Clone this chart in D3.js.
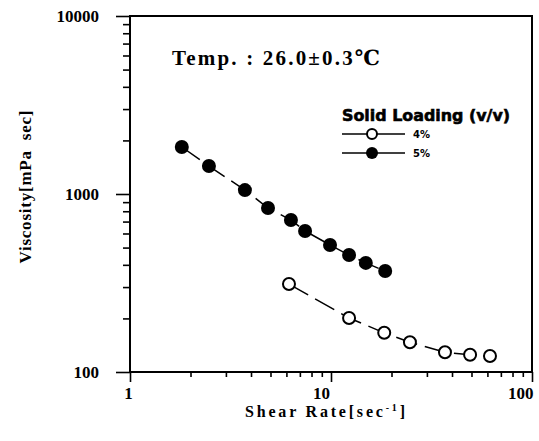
<!DOCTYPE html>
<html>
<head>
<meta charset="utf-8">
<script src="https://cdn.jsdelivr.net/npm/d3@7"></script>
<style>
  body { margin: 0; background: #fff; }
  svg text { fill: #000; }
</style>
</head>
<body>
<svg id="chart" width="539" height="441"></svg>
<script>
// Shear rate [1/s] and viscosity [mPa sec]
const rate5 = [1.81, 2.47, 3.73, 4.86, 6.32, 7.43, 9.89, 12.3, 14.9, 18.6];
const visc5 = [1837, 1436, 1052, 834, 714, 620, 517, 454, 410, 369];
const rate4 = [6.18, 12.3, 18.4, 24.7, 36.9, 49.2, 61.8];
const visc4 = [312, 201, 166, 147, 129, 125, 123];

const xTickValues = [1, 10, 100];
const yTickValues = [100, 1000, 10000];
const seriesLabels = ["4%", "5%"];

const svg = d3.select("#chart");
const plot = { left: 130, right: 532, top: 16, bottom: 372 };

const x = d3.scaleLog().domain([1, 100]).range([plot.left, plot.right]);
const y = d3.scaleLog().domain([100, 10000]).range([plot.bottom, plot.top]);

// minor ticks 2..9 in every decade
const minor = (lo, hi) => {
  const out = [];
  for (let d = lo; d < hi; d *= 10) for (let k = 2; k <= 9; k++) out.push(d * k);
  return out;
};

const serif = "'Liberation Serif', 'DejaVu Serif', serif";

// x axis
const gx = svg.append("g").attr("transform", `translate(0,${plot.bottom})`);
gx.call(d3.axisBottom(x).tickValues(minor(1, 100)).tickSize(5).tickFormat(""));
gx.append("g").call(d3.axisBottom(x).tickValues(xTickValues).tickSize(10).tickFormat(d3.format("d")));
gx.selectAll("path").remove();
gx.selectAll("line").attr("stroke", "#000").attr("stroke-width", 1.6);
gx.selectAll("text")
  .attr("y", 15)
  .attr("dy", "0.71em")
  .style("font-family", serif)
  .style("font-weight", "bold")
  .style("font-size", "17px")
  .attr("text-anchor", d => d === 100 ? "end" : "middle")
  .attr("x", d => d === 100 ? 1 : (d === 1 ? -2 : -10));

// y axis
const gy = svg.append("g").attr("transform", `translate(${plot.left},0)`);
gy.call(d3.axisLeft(y).tickValues(minor(100, 10000)).tickSize(7).tickFormat(""));
gy.append("g").call(d3.axisLeft(y).tickValues(yTickValues).tickSize(14).tickFormat(d3.format("d")));
gy.selectAll("path").remove();
gy.selectAll("line").attr("stroke", "#000").attr("stroke-width", 1.6);
gy.selectAll("text")
  .attr("x", -31)
  .style("font-family", serif)
  .style("font-weight", "bold")
  .style("font-size", "17px");

// frame
svg.append("rect")
  .attr("x", plot.left).attr("y", plot.top)
  .attr("width", plot.right - plot.left).attr("height", plot.bottom - plot.top)
  .attr("fill", "none").attr("stroke", "#000").attr("stroke-width", 2);

// axis titles
const xt = svg.append("text")
  .attr("x", 245).attr("y", 417)
  .attr("textLength", 160).attr("lengthAdjust", "spacing")
  .style("font-family", serif).style("font-weight", "bold")
  .style("font-size", "16px");
xt.append("tspan").text("Shear Rate[sec");
xt.append("tspan").attr("dy", -6).style("font-size", "10px").text("-1");
xt.append("tspan").attr("dy", 6).text("]");

svg.append("text")
  .attr("transform", "translate(31,187) rotate(-90)")
  .attr("text-anchor", "middle")
  .attr("textLength", 153).attr("lengthAdjust", "spacing")
  .style("font-family", serif).style("font-weight", "bold")
  .style("font-size", "17px")
  .attr("xml:space", "preserve")
  .text("Viscosity[mPa  sec]");

svg.append("text")
  .attr("x", 172).attr("y", 65)
  .attr("textLength", 208).attr("lengthAdjust", "spacing")
  .style("font-family", serif).style("font-weight", "bold")
  .style("font-size", "21px")
  .text("Temp. : 26.0±0.3℃");

// series
const line = d3.line().x(d => x(d[0])).y(d => y(d[1]));
const pts5 = rate5.map((r, i) => [r, visc5[i]]);
const pts4 = rate4.map((r, i) => [r, visc4[i]]);

[pts5, pts4].forEach(pts => {
  svg.append("path")
    .datum(pts)
    .attr("d", line)
    .attr("fill", "none")
    .attr("stroke", "#000")
    .attr("stroke-width", 1.5)
    .attr("stroke-dasharray", "22 8");
});

svg.selectAll("circle.s5").data(pts5).join("circle")
  .attr("class", "s5")
  .attr("cx", d => x(d[0])).attr("cy", d => y(d[1]))
  .attr("r", 7).attr("fill", "#000");

svg.selectAll("circle.s4").data(pts4).join("circle")
  .attr("class", "s4")
  .attr("cx", d => x(d[0])).attr("cy", d => y(d[1]))
  .attr("r", 6).attr("fill", "#fff").attr("stroke", "#000").attr("stroke-width", 2);

// legend
const lg = svg.append("g");
lg.append("text")
  .attr("x", 342).attr("y", 121)
  .attr("textLength", 168).attr("lengthAdjust", "spacingAndGlyphs")
  .style("font-family", "'DejaVu Sans', sans-serif").style("font-weight", "900")
  .style("font-size", "16px").style("stroke", "#000").style("stroke-width", 0.6)
  .text("Solid Loading (v/v)");

seriesLabels.forEach((label, i) => {
  const ly = 134 + i * 19;
  lg.append("line").attr("x1", 342).attr("x2", 405).attr("y1", ly).attr("y2", ly)
    .attr("stroke", "#000").attr("stroke-width", 1.3);
  const c = lg.append("circle").attr("cx", 372).attr("cy", ly);
  if (i === 0) c.attr("r", 5).attr("fill", "#fff").attr("stroke", "#000").attr("stroke-width", 2);
  else c.attr("r", 6).attr("fill", "#000");
  lg.append("text")
    .attr("x", 413).attr("y", ly + 4)
    .style("font-family", "'DejaVu Sans', sans-serif").style("font-weight", "bold")
    .style("font-size", "10px")
    .text(label);
});
</script>
</body>
</html>
